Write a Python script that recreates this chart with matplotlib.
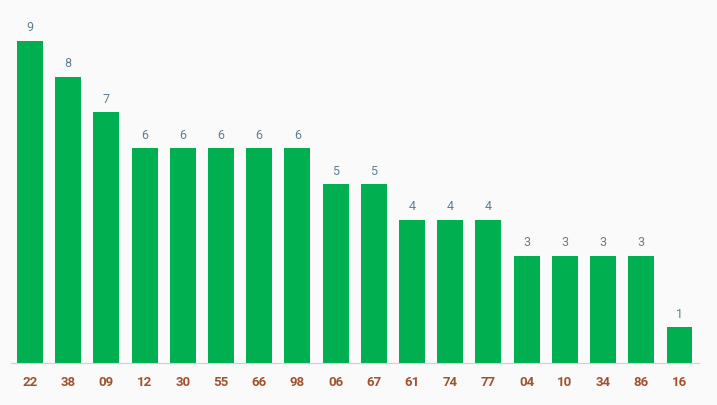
import matplotlib
matplotlib.use("Agg")
import matplotlib.pyplot as plt

categories = ["22","38","09","12","30","55","66","98","06","67","61","74","77","04","10","34","86","16"]
values = [9,8,7,6,6,6,6,6,5,5,4,4,4,3,3,3,3,1]

fig = plt.figure(figsize=(7.17,4.05), dpi=100, facecolor="#fafafa")
ax = fig.add_axes([10.9/717, 42/405, 687.7/717, 363/405], facecolor="#fafafa")
x = range(len(values))
ax.bar(x, values, width=0.68, color="#00b050")
for i, v in enumerate(values):
    ax.text(i, v + 0.18, str(v), ha="center", va="bottom", fontsize=9, color="#5f7f92", family="Roboto")
ax.set_xlim(-0.5, len(values)-0.5)
ax.set_ylim(0, 10.14)
ax.set_xticks(list(x))
ax.set_xticklabels(categories, fontsize=9.5, fontweight="bold", color="#a0522d", family="Roboto")
ax.tick_params(axis="x", length=0, pad=9)
ax.set_yticks([])
for s in ["top","right","left"]:
    ax.spines[s].set_visible(False)
ax.spines["bottom"].set_color("#d0d0d0")
fig.savefig("out.png", dpi=100, facecolor=fig.get_facecolor())
